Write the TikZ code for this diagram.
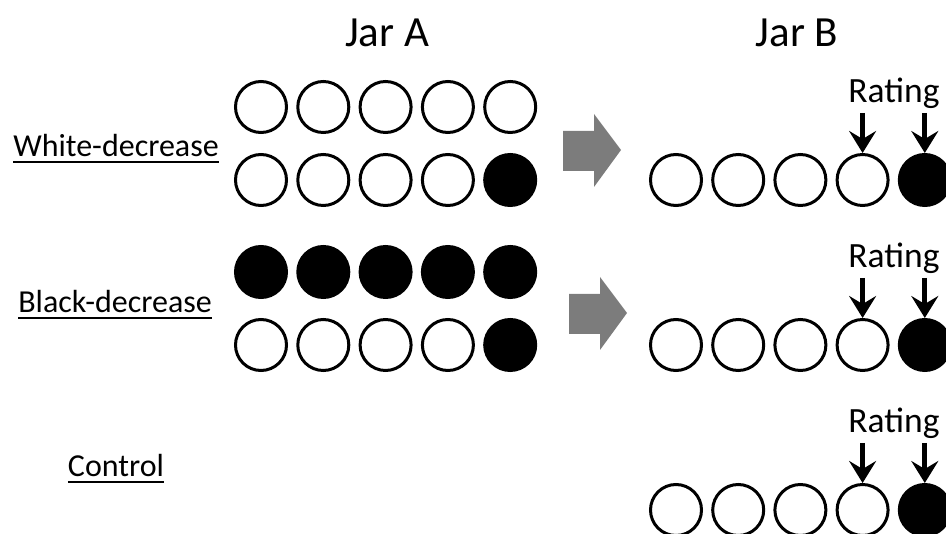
\documentclass[tikz,border=0pt]{standalone}
\usepackage{fontspec}
\setmainfont{Carlito}
\usetikzlibrary{arrows.meta}
\tikzset{
  ball/.style={circle, draw=black, line width=3pt, minimum size=51pt, inner sep=0pt},
  whiteball/.style={ball, fill=white},
  blackball/.style={ball, fill=black},
  jartitle/.style={font=\fontsize{43}{50}\selectfont, anchor=base, inner sep=0pt},
  rowlabel/.style={font=\fontsize{32}{38}\selectfont, anchor=base, inner sep=0pt},
  ratinglabel/.style={font=\fontsize{35.5}{42}\selectfont, anchor=base, inner sep=0pt},
  pointer/.style={line width=5pt, -{Stealth[length=22pt,width=27pt,inset=8pt]}},
  underlined/.style={line width=2pt},
  pics/shiftarrow/.style={code={
    \fill[gray!97!black] (0,-19) -- (31,-19) -- (31,-36) -- (58,0) -- (31,37) -- (31,21) -- (0,21) -- cycle;
  }}
}
\begin{document}
\begin{tikzpicture}[x=1pt, y=-1pt]
  \useasboundingbox (0,0) rectangle (946,534);
  \clip (0,0) rectangle (946,534);

  % column headings
  \node[jartitle] (jarA) at (387,47) {Jar A};
  \node[jartitle] (jarB) at (797,47) {Jar B};

  % condition labels
  \node[rowlabel] (lw) at (116,157) {White-decrease};
  \node[rowlabel] (lb) at (115,313) {Black-decrease};
  \node[rowlabel] (lc) at (116,477) {Control};
  \foreach \n in {lw,lb,lc}
    \draw[underlined] ([yshift=-5pt]\n.base west) -- ([yshift=-5pt]\n.base east);

  % Jar A, white-decrease
  \foreach \i in {1,...,5}
    \node[whiteball] (wa1\i) at ({261+62.3*(\i-1)},107) {};
  \foreach \i in {1,...,4}
    \node[whiteball] (wa2\i) at ({261+62.3*(\i-1)},180) {};
  \node[blackball] (wa25) at ({261+62.3*4},180) {};

  % Jar A, black-decrease
  \foreach \i in {1,...,5}
    \node[blackball] (ba1\i) at ({261+62.3*(\i-1)},272) {};
  \foreach \i in {1,...,4}
    \node[whiteball] (ba2\i) at ({261+62.3*(\i-1)},345) {};
  \node[blackball] (ba25) at ({261+62.3*4},345) {};

  % transfer arrows
  \pic at (563,150) {shiftarrow};
  \pic at (569,313) {shiftarrow};

  % Jar B rows with rating pointers
  \foreach \r/\y in {1/180,2/345,3/510}{
    \foreach \i in {1,...,4}
      \node[whiteball] (b\r\i) at ({676+62.2*(\i-1)},\y) {};
    \node[blackball] (b\r5) at ({676+62.2*4},\y) {};
    \node[ratinglabel] (rt\r) at (894,{\y-77}) {Rating};
    \draw[pointer] ([yshift=-10pt]b\r4.north |- rt\r.base) -- (b\r4.north);
    \draw[pointer] ([yshift=-10pt]b\r5.north |- rt\r.base) -- (b\r5.north);
  }
\end{tikzpicture}
\end{document}
